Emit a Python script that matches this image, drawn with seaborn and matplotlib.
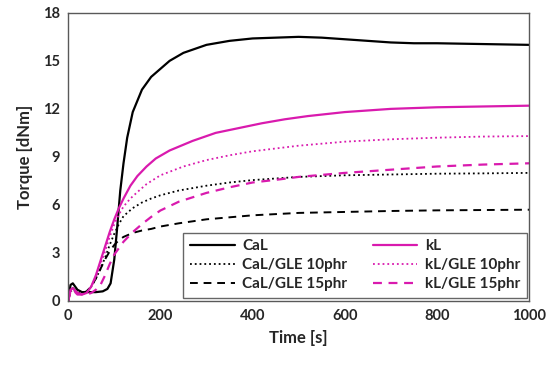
import pandas as pd
import seaborn as sns
import matplotlib
matplotlib.use('Agg')
import matplotlib.pyplot as plt

# values (time in s, torque in dNm)
t_cal = [0, 5, 10, 20, 30, 45, 60, 75, 85, 92, 100, 106, 113, 120, 128, 140, 160, 180, 200, 220,
         250, 300, 350, 400, 450, 500, 550, 600, 650, 700, 750, 800, 900, 1000]
v_cal = [0, 1.0, 1.1, 0.7, 0.55, 0.55, 0.55, 0.6, 0.75, 1.1, 2.6, 4.5, 6.9, 8.6, 10.2, 11.8, 13.2,
         14.0, 14.5, 15.0, 15.5, 16.0, 16.25, 16.4, 16.45, 16.5, 16.45, 16.35, 16.25, 16.15, 16.1,
         16.1, 16.05, 16.0]

t_cal10 = [0, 5, 10, 20, 30, 40, 50, 60, 70, 80, 90, 100, 110, 120, 140, 160, 180, 200, 240,
           300, 350, 400, 500, 600, 700, 800, 900, 1000]
v_cal10 = [0, 0.6, 0.7, 0.5, 0.5, 0.6, 0.9, 1.4, 2.0, 2.7, 3.5, 4.2, 4.8, 5.3, 5.8, 6.15, 6.4,
           6.6, 6.9, 7.2, 7.4, 7.55, 7.75, 7.85, 7.9, 7.95, 7.97, 8.0]

t_cal15 = [0, 5, 10, 20, 30, 40, 50, 60, 70, 80, 90, 100, 110, 120, 140, 160, 180, 200, 240,
           300, 400, 500, 600, 700, 800, 900, 1000]
v_cal15 = [0, 0.7, 0.8, 0.5, 0.5, 0.6, 0.9, 1.4, 2.0, 2.6, 3.1, 3.5, 3.8, 4.0, 4.25, 4.4, 4.5,
           4.65, 4.85, 5.1, 5.35, 5.5, 5.56, 5.62, 5.66, 5.68, 5.7]

t_kl = [0, 5, 10, 20, 30, 40, 50, 60, 70, 80, 90, 100, 110, 120, 135, 150, 170, 190, 220, 270,
        320, 370, 420, 470, 520, 600, 700, 800, 900, 1000]
v_kl = [0, 0.7, 0.8, 0.5, 0.4, 0.5, 0.9, 1.6, 2.5, 3.4, 4.3, 5.1, 5.8, 6.4, 7.2, 7.8, 8.4, 8.9,
        9.4, 10.0, 10.5, 10.8, 11.1, 11.35, 11.55, 11.8, 12.0, 12.1, 12.15, 12.2]

t_kl10 = [0, 5, 10, 20, 30, 40, 50, 60, 70, 80, 90, 100, 110, 120, 135, 150, 170, 200, 250, 300,
          350, 400, 500, 600, 700, 800, 900, 1000]
v_kl10 = [0, 0.6, 0.7, 0.5, 0.4, 0.5, 0.9, 1.5, 2.3, 3.1, 4.0, 4.8, 5.4, 5.9, 6.4, 6.8, 7.3,
          7.85, 8.4, 8.8, 9.1, 9.35, 9.7, 9.95, 10.1, 10.2, 10.27, 10.3]

t_kl15 = [0, 5, 10, 20, 30, 40, 50, 60, 70, 80, 90, 100, 110, 120, 140, 160, 180, 200, 240, 300,
          350, 400, 460, 500, 600, 700, 800, 900, 1000]
v_kl15 = [0, 0.6, 0.7, 0.4, 0.4, 0.4, 0.5, 0.7, 1.0, 1.6, 2.3, 2.9, 3.3, 3.7, 4.3, 4.8, 5.25,
          5.65, 6.2, 6.75, 7.1, 7.4, 7.6, 7.75, 8.0, 8.2, 8.4, 8.52, 8.6]

magenta = '#D91AAE'
series = [
    ('CaL', t_cal, v_cal, 'black', '-', 1.6),
    ('CaL/GLE 10phr', t_cal10, v_cal10, 'black', ':', 1.3),
    ('CaL/GLE 15phr', t_cal15, v_cal15, 'black', (0, (4, 3)), 1.4),
    ('kL', t_kl, v_kl, magenta, '-', 1.6),
    ('kL/GLE 10phr', t_kl10, v_kl10, magenta, ':', 1.3),
    ('kL/GLE 15phr', t_kl15, v_kl15, magenta, (0, (4, 3)), 1.6),
]

sns.set_style('white')
plt.rcParams['font.family'] = ['Lato', 'DejaVu Sans']
plt.rcParams['font.weight'] = 'bold'

fig, ax = plt.subplots(figsize=(5.5, 3.67), dpi=100)
fig.subplots_adjust(left=0.124, right=0.962, top=0.965, bottom=0.18)

for name, t, v, col, ls, lw in series:
    df = pd.DataFrame({'Time': t, 'Torque': v})
    sns.lineplot(data=df, x='Time', y='Torque', ax=ax, color=col, linestyle=ls,
                 linewidth=lw, label=name)

ax.set_xlim(0, 1000)
ax.set_ylim(0, 18)
ax.set_xticks(range(0, 1001, 200))
ax.set_yticks(range(0, 19, 3))
ax.tick_params(length=0, labelsize=10.5, pad=6)
for lab in ax.get_xticklabels() + ax.get_yticklabels():
    lab.set_fontweight('bold')
ax.set_xlabel('Time [s]', fontsize=12, fontweight='bold', labelpad=5)
ax.set_ylabel('Torque [dNm]', fontsize=12, fontweight='bold', labelpad=7)
for sp in ax.spines.values():
    sp.set_color('#595959')
    sp.set_linewidth(1.0)

leg = ax.legend(ncol=2, loc='lower right', bbox_to_anchor=(0.996, 0.01), frameon=True,
                fancybox=False, edgecolor='#404040', handlelength=2.9, columnspacing=1.7,
                handletextpad=0.5, labelspacing=0.32, prop={'weight': 'bold', 'size': 11},
                borderpad=0.45, borderaxespad=0)
leg.get_frame().set_linewidth(1.0)

fig.savefig('out.png', dpi=100)
